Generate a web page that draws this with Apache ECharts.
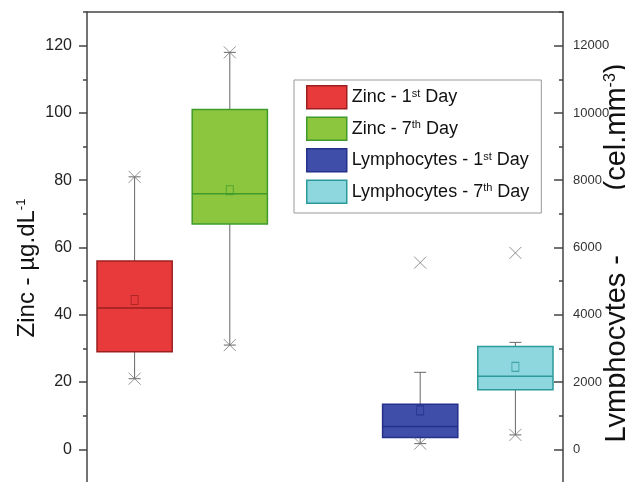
<!DOCTYPE html>
<html>
<head>
<meta charset="utf-8">
<script src="https://cdn.jsdelivr.net/npm/echarts@6/dist/echarts.min.js"></script>
<style>
  html, body { margin: 0; padding: 0; background: #fff; }
  #chart { width: 625px; height: 482px; }
</style>
</head>
<body>
<div id="chart"></div>
<script>
// categories on the x axis (middle slot is empty in the figure)
var categories = ['Zinc 1st', 'Zinc 7th', '', 'Lymph 1st', 'Lymph 7th'];
var seriesNames = ['Zinc - 1st Day', 'Zinc - 7th Day', 'Lymphocytes - 1st Day', 'Lymphocytes - 7th Day'];

// box values: [lower whisker, Q1, median, Q3, upper whisker]
var zinc1Box = [21, 29, 42, 56, 81];
var zinc7Box = [31, 67, 76, 101, 118];
var lymph1Box = [170, 350, 680, 1340, 2290];
var lymph7Box = [430, 1770, 2170, 3060, 3180];

// means (small squares)
var zincMeans = [44.4, 77];
var lymphMeans = [1160, 2450];

// x-marks (1% / 99%)
var zinc1Marks = [21, 81];
var zinc7Marks = [31, 118];
var lymph1Marks = [170, 5550];
var lymph7Marks = [430, 5840];

// tick labels
var zincTicks = [0, 20, 40, 60, 80, 100, 120];
var lymphTicks = [0, 2000, 4000, 6000, 8000, 10000, 12000];

var font = "'Liberation Sans', Arial, sans-serif";
var axisColor = '#444';

var fills = ['#e83a3a', '#8cc63f', '#3f4ea8', '#8ed7df'];
var borders = ['#9a2020', '#3f9a2a', '#24308a', '#2a9a9a'];

function makeBox(idx, catIdx, box, yIdx) {
  return {
    type: 'custom',
    name: seriesNames[idx],
    yAxisIndex: yIdx,
    itemStyle: { color: fills[idx], borderColor: borders[idx] },
    encode: { x: 0, y: [1, 2, 3, 4, 5] },
    data: [[catIdx].concat(box)],
    z: 2,
    renderItem: function (params, api) {
      var x = api.value(0);
      var lo = api.coord([x, api.value(1)]);
      var q1 = api.coord([x, api.value(2)]);
      var md = api.coord([x, api.value(3)]);
      var q3 = api.coord([x, api.value(4)]);
      var hi = api.coord([x, api.value(5)]);
      var w = api.size([1, 0])[0] * 0.79;
      var cx = lo[0];
      var cap = 6;
      var ws = { stroke: '#666', lineWidth: 1 };
      return {
        type: 'group',
        children: [
          { type: 'line', shape: { x1: cx, y1: hi[1], x2: cx, y2: lo[1] }, style: ws },
          { type: 'line', shape: { x1: cx - cap, y1: hi[1], x2: cx + cap, y2: hi[1] }, style: ws },
          { type: 'line', shape: { x1: cx - cap, y1: lo[1], x2: cx + cap, y2: lo[1] }, style: ws },
          { type: 'rect', shape: { x: cx - w / 2, y: q3[1], width: w, height: q1[1] - q3[1] },
            style: { fill: fills[idx], stroke: borders[idx], lineWidth: 1.5 } },
          { type: 'line', shape: { x1: cx - w / 2, y1: md[1], x2: cx + w / 2, y2: md[1] },
            style: { stroke: borders[idx], lineWidth: 1.5 } }
        ]
      };
    }
  };
}

function makeMarks(catIdx, vals, yIdx) {
  return {
    type: 'scatter',
    yAxisIndex: yIdx,
    symbol: 'path://M0,0L10,10M10,0L0,10',
    symbolSize: 12,
    itemStyle: { color: 'none', borderColor: '#777', borderWidth: 1 },
    data: vals.map(function (v) { return [catIdx, v]; }),
    z: 5,
    silent: true
  };
}

function makeMean(catIdx, v, yIdx, idx) {
  return {
    type: 'scatter',
    yAxisIndex: yIdx,
    symbol: 'rect',
    symbolSize: [7, 9],
    itemStyle: { color: 'none', borderColor: borders[idx], borderWidth: 1 },
    data: [[catIdx, v]],
    z: 5,
    silent: true
  };
}

var myChart = echarts.init(document.getElementById('chart'));

var option = {
  backgroundColor: '#fff',
  animation: false,
  grid: { left: 87, right: 62, top: 12, bottom: -1, containLabel: false, outerBoundsMode: 'none' },
  legend: {
    orient: 'vertical',
    left: 294,
    top: 80,
    itemWidth: 40,
    itemHeight: 23,
    itemGap: 7,
    padding: [5, 12, 9, 12],
    borderColor: '#999',
    borderWidth: 1,
    backgroundColor: '#fff',
    selectedMode: false,
    data: seriesNames.map(function (n, i) {
      return { name: n, icon: 'rect', itemStyle: { color: fills[i], borderColor: borders[i], borderWidth: 1.5 } };
    }),
    formatter: function (name) {
      return name.replace(/(\d)(st|th)/, '$1{sup|$2}');
    },
    textStyle: {
      fontFamily: font, fontSize: 18, color: '#111',
      rich: { sup: { fontFamily: font, fontSize: 11, verticalAlign: 'top', color: '#111' } }
    }
  },
  graphic: [
    {
      type: 'text', x: 27, y: 268, rotation: Math.PI / 2,
      style: {
        text: 'Zinc - µg.dL{sup|-1}', align: 'center', verticalAlign: 'middle',
        fontFamily: font, fontSize: 24, fill: '#111',
        rich: { sup: { fontFamily: font, fontSize: 13, verticalAlign: 'top', fill: '#111' } }
      }
    },
    {
      type: 'text', x: 617, y: 253, rotation: Math.PI / 2,
      style: {
        text: 'Lymphocytes -        (cel.mm{sup|-3})', align: 'center', verticalAlign: 'middle',
        fontFamily: font, fontSize: 29, fill: '#111',
        rich: { sup: { fontFamily: font, fontSize: 16, verticalAlign: 'top', fill: '#111' } }
      }
    }
  ],
  xAxis: [
    {
      type: 'category', data: categories, position: 'bottom',
      axisLine: { onZero: false, lineStyle: { color: axisColor, width: 1.5 } },
      axisTick: { alignWithLabel: true, inside: true, length: 8 },
      axisLabel: { show: false }
    },
    {
      type: 'category', data: categories, position: 'top',
      axisLine: { onZero: false, lineStyle: { color: axisColor, width: 1.5 } },
      axisTick: { alignWithLabel: true, inside: true, length: 8, lineStyle: { color: axisColor, width: 1.5 } },
      axisLabel: { show: false }
    }
  ],
  yAxis: [
    {
      type: 'value', position: 'left', min: -10, max: 130,
      axisLine: { show: true, onZero: false, lineStyle: { color: axisColor, width: 1.5 } },
      axisTick: { show: true, customValues: zincTicks, length: 8, lineStyle: { color: axisColor, width: 1.5 } },
      axisLabel: { customValues: zincTicks, margin: 15, fontFamily: font, fontSize: 16, color: '#222' },
      splitLine: { show: false }
    },
    {
      type: 'value', position: 'right', min: -1000, max: 13000,
      axisLine: { show: true, onZero: false, lineStyle: { color: axisColor, width: 1.5 } },
      axisTick: { show: true, inside: true, customValues: lymphTicks, length: 9, lineStyle: { color: axisColor, width: 1.5 } },
      axisLabel: {
        customValues: lymphTicks, margin: 10, fontFamily: font, fontSize: 13, color: '#333',
        formatter: function (v) { return String(v); }
      },
      splitLine: { show: false }
    },
    {
      type: 'value', position: 'left', min: -10, max: 130, interval: 10,
      axisLine: { show: false },
      axisTick: { show: true, length: 4, lineStyle: { color: axisColor, width: 1.5 } },
      axisLabel: { show: false },
      splitLine: { show: false }
    },
    {
      type: 'value', position: 'right', min: -1000, max: 13000, interval: 1000,
      axisLine: { show: false },
      axisTick: { show: true, inside: true, length: 4, lineStyle: { color: axisColor, width: 1.5 } },
      axisLabel: { show: false },
      splitLine: { show: false }
    }
  ],
  series: [
    makeBox(0, 0, zinc1Box, 0),
    makeBox(1, 1, zinc7Box, 0),
    makeBox(2, 3, lymph1Box, 1),
    makeBox(3, 4, lymph7Box, 1),
    makeMarks(0, zinc1Marks, 0),
    makeMarks(1, zinc7Marks, 0),
    makeMarks(3, lymph1Marks, 1),
    makeMarks(4, lymph7Marks, 1),
    makeMean(0, zincMeans[0], 0, 0),
    makeMean(1, zincMeans[1], 0, 1),
    makeMean(3, lymphMeans[0], 1, 2),
    makeMean(4, lymphMeans[1], 1, 3)
  ]
};

myChart.setOption(option);
</script>
</body>
</html>
